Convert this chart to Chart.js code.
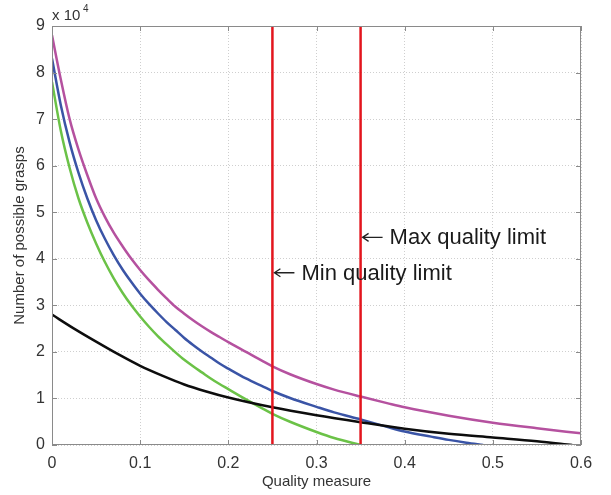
<!DOCTYPE html>
<html>
<head>
<meta charset="utf-8">
<script src="https://cdn.jsdelivr.net/npm/chart.js@4.4.1/dist/chart.umd.min.js"></script>
<style>
  body { margin: 0; background: #fff; }
</style>
</head>
<body>
<canvas id="graspChart" width="611" height="495"></canvas>
<script>
// tick labels
var xTicks = [0, 0.1, 0.2, 0.3, 0.4, 0.5, 0.6];
var yTicks = [0, 1, 2, 3, 4, 5, 6, 7, 8, 9];

// quality limits (vertical red lines)
var minLimit = 0.25;
var maxLimit = 0.35;

// number of grasps, x 10^4
var magentaQ = [0, 0.01, 0.02, 0.03, 0.04, 0.05, 0.06, 0.07, 0.08, 0.09, 0.1, 0.11, 0.12, 0.13, 0.14, 0.15, 0.16, 0.17, 0.18, 0.19, 0.2, 0.22, 0.24, 0.25, 0.27, 0.3, 0.32, 0.35, 0.38, 0.4, 0.45, 0.5, 0.55, 0.6];
var magentaN = [8.8, 7.85, 7.0, 6.35, 5.8, 5.3, 4.9, 4.56, 4.27, 4.0, 3.76, 3.54, 3.34, 3.15, 2.97, 2.82, 2.68, 2.55, 2.43, 2.32, 2.21, 2.0, 1.79, 1.69, 1.52, 1.31, 1.19, 1.04, 0.9, 0.81, 0.63, 0.48, 0.36, 0.25];

var blueQ = [0, 0.01, 0.02, 0.03, 0.04, 0.05, 0.06, 0.07, 0.08, 0.09, 0.1, 0.11, 0.12, 0.13, 0.14, 0.15, 0.16, 0.17, 0.18, 0.19, 0.2, 0.22, 0.24, 0.25, 0.27, 0.3, 0.32, 0.35, 0.38, 0.4, 0.43, 0.45, 0.47, 0.489];
var blueN = [8.3, 7.3, 6.5, 5.85, 5.3, 4.83, 4.43, 4.08, 3.77, 3.5, 3.25, 3.03, 2.83, 2.64, 2.47, 2.3, 2.15, 2.01, 1.88, 1.75, 1.64, 1.43, 1.25, 1.16, 1.01, 0.82, 0.7, 0.55, 0.39, 0.29, 0.18, 0.11, 0.05, 0];

var greenQ = [0, 0.01, 0.02, 0.03, 0.04, 0.05, 0.06, 0.07, 0.08, 0.09, 0.1, 0.11, 0.12, 0.13, 0.14, 0.15, 0.16, 0.17, 0.18, 0.19, 0.2, 0.22, 0.24, 0.25, 0.27, 0.3, 0.32, 0.35];
var greenN = [7.8, 6.75, 5.95, 5.3, 4.78, 4.33, 3.93, 3.58, 3.27, 3.0, 2.76, 2.54, 2.34, 2.16, 1.99, 1.83, 1.69, 1.56, 1.43, 1.31, 1.2, 0.98, 0.77, 0.67, 0.5, 0.28, 0.15, 0];

var blackQ = [0, 0.025, 0.05, 0.075, 0.1, 0.125, 0.15, 0.175, 0.2, 0.25, 0.3, 0.35, 0.4, 0.45, 0.5, 0.55, 0.59];
var blackN = [2.8, 2.5, 2.22, 1.95, 1.7, 1.49, 1.3, 1.15, 1.02, 0.81, 0.64, 0.49, 0.35, 0.24, 0.16, 0.08, 0];

function pts(q, n) {
  return q.map(function(v, i) { return { x: v, y: n[i] }; });
}

function curve(data, color) {
  return {
    data: data,
    borderColor: color,
    borderWidth: 2.5,
    pointRadius: 0,
    cubicInterpolationMode: 'monotone',
    fill: false
  };
}

var tickFont = { family: 'Liberation Sans, Arial, sans-serif', size: 16 };
var titleFont = { family: 'Liberation Sans, Arial, sans-serif', size: 15 };

// box, inward ticks, exponent and the two notes
var decorations = {
  id: 'decorations',
  afterDatasetsDraw: function(chart) {
    var ctx = chart.ctx;
    var a = chart.chartArea;
    var xs = chart.scales.x, ys = chart.scales.y;
    ctx.save();
    ctx.strokeStyle = '#8a8a8a';
    ctx.lineWidth = 1;
    ctx.strokeRect(a.left + 0.5, a.top + 0.5, a.right - a.left - 1, a.bottom - a.top - 1);
    ctx.beginPath();
    xTicks.forEach(function(t) {
      var px = Math.round(xs.getPixelForValue(t)) + 0.5;
      ctx.moveTo(px, a.bottom); ctx.lineTo(px, a.bottom - 5);
      ctx.moveTo(px, a.top); ctx.lineTo(px, a.top + 5);
    });
    yTicks.forEach(function(t) {
      var py = Math.round(ys.getPixelForValue(t)) + 0.5;
      ctx.moveTo(a.left, py); ctx.lineTo(a.left + 5, py);
      ctx.moveTo(a.right, py); ctx.lineTo(a.right - 5, py);
    });
    ctx.stroke();

    // x 10^4
    ctx.fillStyle = '#333';
    ctx.textBaseline = 'alphabetic';
    ctx.textAlign = 'left';
    ctx.font = '15px Liberation Sans, Arial, sans-serif';
    ctx.fillText('x 10', a.left, a.top - 6);
    ctx.font = '10px Liberation Sans, Arial, sans-serif';
    ctx.fillText('4', a.left + 31, a.top - 14);

    // notes
    var notes = [
      { q: minLimit, n: 3.7, text: 'Min quality limit' },
      { q: maxLimit, n: 4.46, text: 'Max quality limit' }
    ];
    ctx.font = '22px Liberation Sans, Arial, sans-serif';
    ctx.textBaseline = 'middle';
    notes.forEach(function(nt) {
      var x = xs.getPixelForValue(nt.q) + 2;
      var y = ys.getPixelForValue(nt.n);
      ctx.strokeStyle = '#222';
      ctx.lineWidth = 1.3;
      ctx.beginPath();
      ctx.moveTo(x, y); ctx.lineTo(x + 20, y);
      ctx.moveTo(x + 6, y - 4); ctx.lineTo(x, y); ctx.lineTo(x + 6, y + 4);
      ctx.stroke();
      ctx.fillStyle = '#1a1a1a';
      ctx.fillText(nt.text, x + 27, y + 1);
    });
    ctx.restore();
  }
};

new Chart(document.getElementById('graspChart').getContext('2d'), {
  type: 'line',
  data: {
    datasets: [
      curve(pts([minLimit, minLimit], [0, 9]), '#e3151d'),
      curve(pts([maxLimit, maxLimit], [0, 9]), '#e3151d'),
      curve(pts(blackQ, blackN), '#0d0d0d'),
      curve(pts(blueQ, blueN), '#3a54a6'),
      curve(pts(greenQ, greenN), '#6bc247'),
      curve(pts(magentaQ, magentaN), '#b5519f')
    ]
  },
  options: {
    responsive: false,
    animation: false,
    layout: { padding: { top: 26, right: 30, left: 0, bottom: 0 } },
    plugins: { legend: { display: false }, tooltip: { enabled: false } },
    scales: {
      x: {
        type: 'linear',
        min: 0,
        max: 0.6,
        afterBuildTicks: function(scale) {
          scale.ticks = xTicks.map(function(v) { return { value: v }; });
        },
        afterFit: function(scale) { scale.height = 50; },
        ticks: {
          font: tickFont,
          color: '#333',
          padding: 9,
          maxRotation: 0,
          callback: function(v) { return String(v); }
        },
        grid: { color: '#cfcfcf', drawTicks: false },
        border: { display: false, dash: [1, 2] },
        title: {
          display: true,
          text: 'Quality measure',
          font: titleFont,
          color: '#333',
          padding: { top: 0, bottom: 4 }
        }
      },
      y: {
        type: 'linear',
        min: 0,
        max: 9,
        afterBuildTicks: function(scale) {
          scale.ticks = yTicks.map(function(v) { return { value: v }; });
        },
        afterFit: function(scale) { scale.width = 52; },
        ticks: {
          font: tickFont,
          color: '#333',
          padding: 7
        },
        grid: { color: '#cfcfcf', drawTicks: false },
        border: { display: false, dash: [1, 2] },
        title: {
          display: true,
          text: 'Number of possible grasps',
          font: titleFont,
          color: '#333',
          padding: { top: 11, bottom: 0 }
        }
      }
    }
  },
  plugins: [decorations]
});
</script>
</body>
</html>
